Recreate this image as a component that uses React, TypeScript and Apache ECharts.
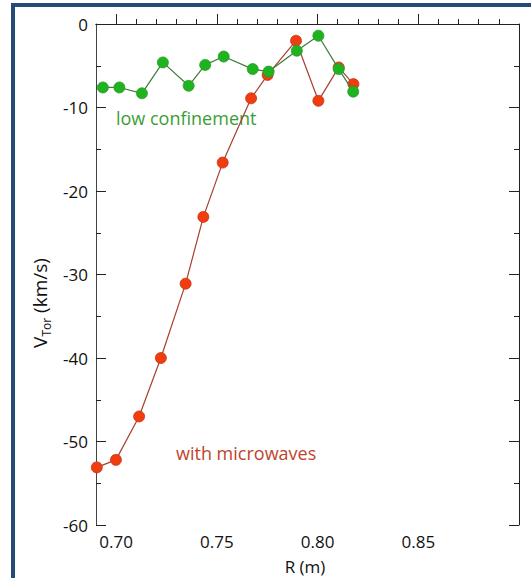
import React, { useEffect, useRef } from "react";
import * as echarts from "echarts";

const greenR = [0.6934, 0.7016, 0.7128, 0.7232, 0.736, 0.7442, 0.7534, 0.7678, 0.7757, 0.7897, 0.8004, 0.8105, 0.8177];
const greenV = [-7.6, -7.6, -8.3, -4.6, -7.4, -4.9, -3.9, -5.4, -5.7, -3.2, -1.4, -5.4, -8.1];
const redR = [0.6904, 0.6999, 0.7114, 0.7222, 0.7345, 0.7433, 0.7529, 0.767, 0.7752, 0.7893, 0.8004, 0.8105, 0.8178];
const redV = [-53.1, -52.2, -47.0, -40.0, -31.1, -23.1, -16.6, -8.9, -6.1, -2.0, -9.2, -5.2, -7.2];

const xMajor = [0.7, 0.75, 0.8, 0.85];
const xMinor = [0.71, 0.72, 0.73, 0.74, 0.76, 0.77, 0.78, 0.79, 0.81, 0.82, 0.83, 0.84, 0.86, 0.87, 0.88, 0.89];
const yMajor = [0, -10, -20, -30, -40, -50, -60];
const yMinor = [-5, -15, -25, -35, -45, -55];

const FONT = "'Open Sans', 'Noto Sans', sans-serif";

export default function App() {
  const ref = useRef<HTMLDivElement>(null);
  useEffect(() => {
    if (!ref.current) return;
    const chart = echarts.init(ref.current, undefined, { renderer: "svg" });
    const xBase = { type: "value", min: 0.69, max: 0.9, splitLine: { show: false } };
    const yBase = { type: "value", min: -60, max: 0, splitLine: { show: false } };
    const line = { show: true, lineStyle: { color: "#222", width: 1 } };
    const noLine = { show: false };
    const noLabel = { show: false };
    const option: any = {
      animation: false,
      backgroundColor: "#fff",
      textStyle: { fontFamily: FONT },
      grid: { left: 96, top: 24, right: 12, bottom: 53, containLabel: false },
      xAxis: [
        {
          ...xBase, position: "bottom", axisLine: line,
          axisTick: { show: true, inside: true, length: 10, customValues: xMajor, lineStyle: { color: "#222" } },
          axisLabel: { show: true, customValues: xMajor, formatter: (v: number) => v.toFixed(2), color: "#111", fontSize: 17, fontFamily: FONT, margin: 8 },
        },
        {
          ...xBase, position: "bottom", axisLine: noLine, axisLabel: noLabel,
          axisTick: { show: true, inside: true, length: 5, customValues: xMinor, lineStyle: { color: "#222" } },
        },
        {
          ...xBase, position: "top", axisLine: line, axisLabel: noLabel,
          axisTick: { show: true, inside: false, length: 10, customValues: xMajor, lineStyle: { color: "#222" } },
        },
        {
          ...xBase, position: "top", axisLine: noLine, axisLabel: noLabel,
          axisTick: { show: true, inside: false, length: 5, customValues: xMinor, lineStyle: { color: "#222" } },
        },
      ],
      yAxis: [
        {
          ...yBase, position: "left", axisLine: { show: true, lineStyle: { color: "#444", width: 1 } },
          axisTick: { show: true, inside: true, length: 10, customValues: yMajor, lineStyle: { color: "#222" } },
          axisLabel: { show: true, customValues: yMajor, color: "#111", fontSize: 17, fontFamily: FONT, margin: 8 },
        },
        {
          ...yBase, position: "left", axisLine: noLine, axisLabel: noLabel,
          axisTick: { show: true, inside: true, length: 5, customValues: yMinor, lineStyle: { color: "#222" } },
        },
        {
          ...yBase, position: "right", axisLine: line, axisLabel: noLabel,
          axisTick: { show: true, inside: true, length: 10, customValues: yMajor, lineStyle: { color: "#222" } },
        },
        {
          ...yBase, position: "right", axisLine: noLine, axisLabel: noLabel,
          axisTick: { show: true, inside: true, length: 5, customValues: yMinor, lineStyle: { color: "#222" } },
        },
      ],
      series: [
        {
          name: "with microwaves",
          type: "line",
          xAxisIndex: 0,
          yAxisIndex: 0,
          data: redR.map((r, i) => [r, redV[i]]),
          symbol: "circle",
          symbolSize: 11,
          clip: false,
          lineStyle: { color: "#a4402e", width: 1.2 },
          itemStyle: { color: "#f03c0e", borderColor: "#c0381a", borderWidth: 0.8 },
          z: 2,
        },
        {
          name: "low confinement",
          type: "line",
          xAxisIndex: 0,
          yAxisIndex: 0,
          data: greenR.map((r, i) => [r, greenV[i]]),
          symbol: "circle",
          symbolSize: 11,
          clip: false,
          lineStyle: { color: "#3c7c3c", width: 1.2 },
          itemStyle: { color: "#1fb31f", borderColor: "#2a9a2a", borderWidth: 0.8 },
          z: 3,
        },
      ],
      graphic: [
        { type: "rect", shape: { x: 11, y: 3, width: 4, height: 600 }, style: { fill: "#264a78" }, z: 10 },
        { type: "rect", shape: { x: 11, y: 3, width: 600, height: 4 }, style: { fill: "#264a78" }, z: 10 },
        {
          type: "text", x: 116, y: 118,
          style: { text: "low confinement", fill: "#3a9e35", fontSize: 18, fontFamily: FONT, textAlign: "left", textVerticalAlign: "middle" },
        },
        {
          type: "text", x: 176, y: 453,
          style: { text: "with microwaves", fill: "#c0442c", fontSize: 18, fontFamily: FONT, textAlign: "left", textVerticalAlign: "middle" },
        },
        {
          type: "text", x: 305, y: 566,
          style: { text: "R (m)", fill: "#111", fontSize: 17, fontFamily: FONT, textAlign: "center", textVerticalAlign: "middle" },
        },
        {
          type: "text", x: 40, y: 303, rotation: Math.PI / 2,
          style: {
            text: "{a|V}{b|Tor}{a| (km/s)}",
            textAlign: "center", textVerticalAlign: "middle",
            rich: {
              a: { fontSize: 19, fontFamily: FONT, fill: "#111", lineHeight: 24, verticalAlign: "middle" },
              b: { fontSize: 12, fontFamily: FONT, fill: "#111", lineHeight: 12, verticalAlign: "bottom" },
            },
          },
        },
      ],
    };
    chart.setOption(option);
    return () => chart.dispose();
  }, []);
  return <div ref={ref} style={{ position: "fixed", left: 0, top: 0, width: 531, height: 578 }} />;
}
